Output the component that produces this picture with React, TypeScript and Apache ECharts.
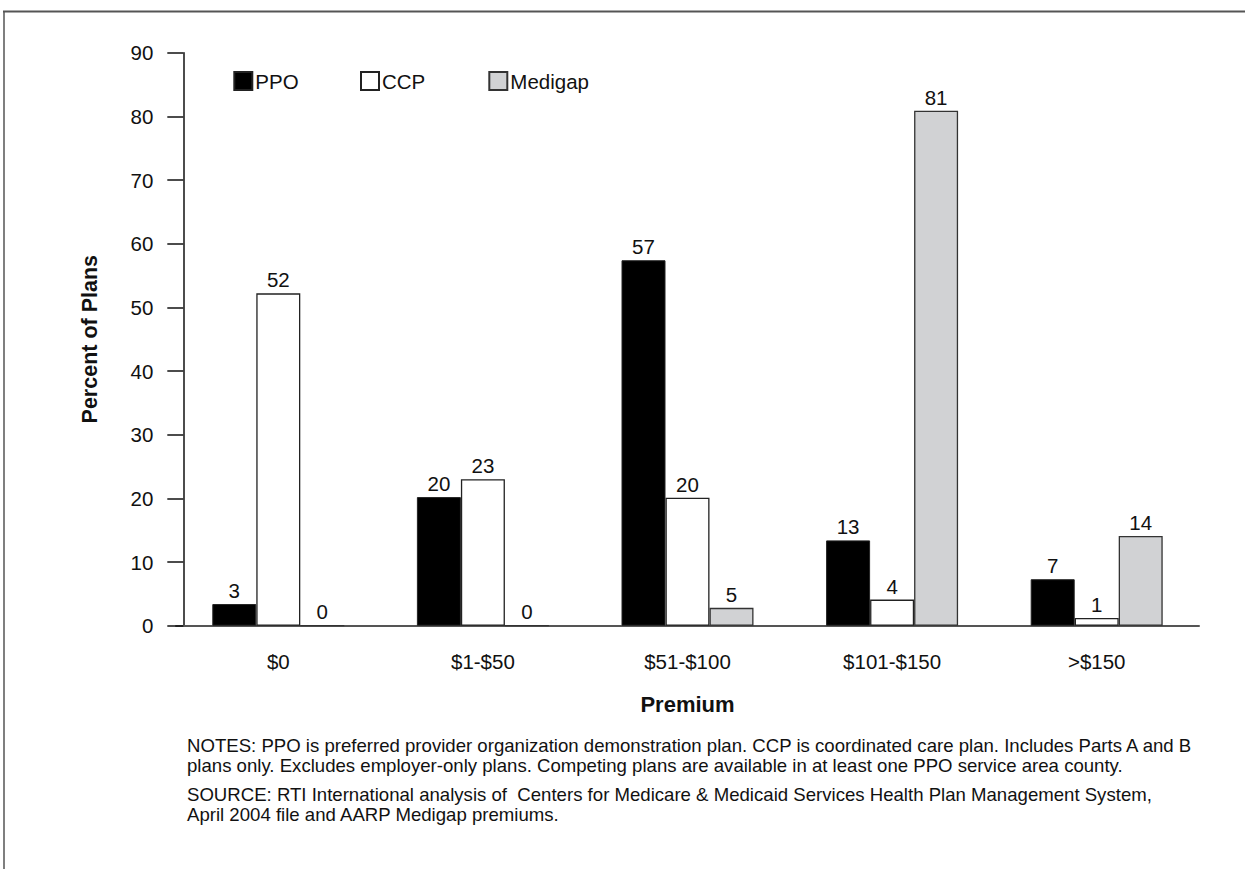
import React, { useEffect, useRef } from "react";
import * as echarts from "echarts";

const categories = ["$0", "$1-$50", "$51-$100", "$101-$150", ">$150"];
const ppoValues = [3.4, 20.2, 57.4, 13.4, 7.3];
const ccpValues = [52.2, 23.0, 20.1, 4.1, 1.2];
const medigapValues = [0, 0, 2.8, 80.9, 14.1];
const ppoLabels = ["3", "20", "57", "13", "7"];
const ccpLabels = ["52", "23", "20", "4", "1"];
const medigapLabels = ["0", "0", "5", "81", "14"];
const yTicks = { min: 0, max: 90, interval: 10 };
const notesLines = [
  "NOTES: PPO is preferred provider organization demonstration plan. CCP is coordinated care plan. Includes Parts A and B",
  "plans only. Excludes employer-only plans. Competing plans are available in at least one PPO service area county.",
];
const sourceLines = [
  "SOURCE: RTI International analysis of  Centers for Medicare & Medicaid Services Health Plan Management System,",
  "April 2004 file and AARP Medigap premiums.",
];

const FONT = "'Liberation Sans', Arial, Helvetica, sans-serif";

export default function App() {
  const ref = useRef<HTMLDivElement>(null);
  useEffect(() => {
    if (!ref.current) return;
    const chart = echarts.init(ref.current, null, { renderer: "svg" });
    const labelStyle = (labels: string[]) => ({
      show: true,
      position: "top" as const,
      distance: 3,
      fontSize: 20.5,
      fontFamily: FONT,
      color: "#111",
      formatter: (p: any) => labels[p.dataIndex],
    });
    const legendCommon = {
      top: 70.5,
      padding: 0,
      icon: "rect",
      itemWidth: 18,
      itemHeight: 18,
      itemGap: 0,
      textStyle: { fontSize: 20.5, lineHeight: 18, fontFamily: FONT, color: "#111", padding: [0, 0, 0, -2] },
    };
    chart.setOption({
      animation: false,
      backgroundColor: "#fff",
      textStyle: { fontFamily: FONT },
      legend: [
        { ...legendCommon, left: 233.3, data: ["PPO"] },
        { ...legendCommon, left: 360, data: ["CCP"] },
        { ...legendCommon, left: 488.3, data: ["Medigap"] },
      ],
      grid: { left: 176, right: 46, top: 52.7, bottom: 243.3, containLabel: false },
      xAxis: {
        type: "category",
        data: categories,
        name: "Premium",
        nameLocation: "middle",
        nameGap: 68,
        nameTextStyle: { fontSize: 22, fontWeight: "bold", fontFamily: FONT, color: "#111" },
        axisLine: { lineStyle: { color: "#555", width: 2 } },
        axisTick: { show: false },
        axisLabel: { fontSize: 20.5, fontFamily: FONT, color: "#111", margin: 25 },
      },
      yAxis: {
        type: "value",
        min: yTicks.min,
        max: yTicks.max,
        interval: yTicks.interval,
        offset: -7.3,
        name: "Percent of Plans",
        nameLocation: "middle",
        nameGap: 82,
        nameRotate: 90,
        nameTextStyle: { fontSize: 21.5, fontWeight: "bold", fontFamily: FONT, color: "#111" },
        axisLine: { show: true, lineStyle: { color: "#111", width: 1.5 } },
        axisTick: { show: true, length: 16, lineStyle: { color: "#111", width: 1.5 } },
        axisLabel: { fontSize: 20.5, fontFamily: FONT, color: "#111", margin: 30 },
        splitLine: { show: false },
      },
      series: [
        {
          name: "PPO",
          type: "bar",
          data: ppoValues,
          barWidth: 44,
          barGap: "0%",
          itemStyle: { color: "#000", borderColor: "#222", borderWidth: 1 },
          label: labelStyle(ppoLabels),
        },
        {
          name: "CCP",
          type: "bar",
          data: ccpValues,
          barWidth: 44,
          barGap: "0%",
          itemStyle: { color: "#fff", borderColor: "#222", borderWidth: 1.3 },
          label: labelStyle(ccpLabels),
        },
        {
          name: "Medigap",
          type: "bar",
          data: medigapValues,
          barWidth: 44,
          barGap: "0%",
          itemStyle: { color: "#d1d2d4", borderColor: "#333", borderWidth: 1.3 },
          label: labelStyle(medigapLabels),
        },
      ],
      graphic: [
        { type: "line", shape: { x1: 3, y1: 11.5, x2: 1245, y2: 11.5 }, style: { stroke: "#555", lineWidth: 2 } },
        { type: "line", shape: { x1: 4, y1: 11, x2: 4, y2: 869 }, style: { stroke: "#555", lineWidth: 1.5 } },
        {
          type: "text",
          left: 187,
          top: 736,
          style: { text: notesLines.join("\n"), fontSize: 18.6, lineHeight: 19.5, fontFamily: FONT, fill: "#111" },
        },
        {
          type: "text",
          left: 187,
          top: 785,
          style: { text: sourceLines.join("\n"), fontSize: 18.6, lineHeight: 19.5, fontFamily: FONT, fill: "#111" },
        },
      ],
    });
    return () => chart.dispose();
  }, []);
  return (
    <div
      ref={ref}
      style={{ position: "fixed", left: 0, top: 0, width: 1245, height: 869, background: "#fff" }}
    />
  );
}
